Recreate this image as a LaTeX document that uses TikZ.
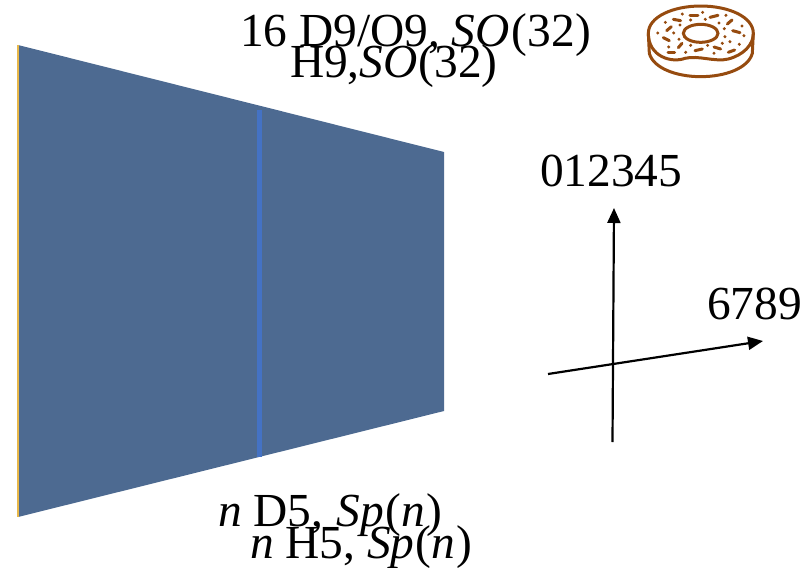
\documentclass[tikz,border=0pt]{standalone}
\usepackage{fontspec}
\setmainfont{Liberation Serif}
\usetikzlibrary{arrows.meta}
\definecolor{sheet}{HTML}{4D6A91}
\definecolor{brane}{HTML}{4472C4}
\definecolor{edgey}{HTML}{E8B84A}
\definecolor{donut}{HTML}{964B0F}
\tikzset{
  lbl/.style={anchor=base west,inner sep=0pt,outer sep=0pt,font=\fontsize{47.4}{50}\selectfont,text=black},
  axisline/.style={line width=2.2pt,black,-{Triangle[length=15pt,width=13pt]}},
  dn/.style={draw=donut,line width=3pt,fill=none},
  dsh/.style={draw=donut,line width=3pt,line cap=round},
  dt/.style={fill=donut,draw=none}
}
\newcommand{\spr}[4]{\draw[dsh] (#1,#2) -- (#3,#4);}
\newcommand{\dott}[2]{\fill[dt] (#1,#2) circle (5);}
\begin{document}
\begin{tikzpicture}[x=1pt,y=-1pt]
\useasboundingbox (0,0) rectangle (812,568);
\fill[sheet] (18,45) -- (444,152) -- (444,411) -- (18,517) -- cycle;
\coordinate (ytop) at (18,45);
\coordinate (ybot) at (18,517);
\draw[edgey,line width=1.6pt] (ytop) -- (ybot);
\coordinate (btop) at (259,110);
\coordinate (bbot) at (259,457);
\draw[brane,line width=5pt] (btop) -- (bbot);
\coordinate (vs) at (612.5,442);
\coordinate (ve) at (614,208);
\coordinate (hs) at (548,374);
\coordinate (he) at (763,341);
\draw[axisline] (vs) -- (ve);
\draw[axisline] (hs) -- (he);
\node[lbl] (t1) at (240,46.5) {16 D9/O9, \textit{SO}\kern2pt(32)};
\node[lbl] (t2) at (290,77) {H9,\textit{SO}\kern1pt(32)};
\node[lbl] (b1) at (218,526) {\textit{n} D5, \kern1.5pt\textit{Sp}\kern1.5pt(\textit{n}\kern1pt)};
\node[lbl] (b2) at (250,558) {\textit{n} H5, \textit{Sp}\kern1pt(\textit{n}\kern1pt)};
\node[lbl] (a1) at (540,186) {012345};
\node[lbl] (a2) at (707,319) {6789};
\begin{scope}[shift={(630,0)},x=0.3333pt,y=-0.3333pt]
\draw[dn] (212,100) ellipse [x radius=52,y radius=27];
\draw[dn] (55,100) .. controls (55,50) and (130,18) .. (212,18)
  .. controls (295,18) and (370,50) .. (370,100)
  .. controls (370,135) and (340,165) .. (295,177)
  .. controls (255,187) and (205,165) .. (165,175)
  .. controls (125,190) and (55,170) .. (55,100) -- cycle;
\draw[dn] (55,100) -- (58,160) .. controls (70,205) and (140,230) .. (212,230)
  .. controls (285,230) and (355,205) .. (367,160) -- (370,100);
\spr{130}{58}{152}{62}\spr{180}{47}{204}{47}\spr{240}{52}{264}{46}
\spr{292}{72}{306}{60}\spr{308}{92}{330}{98}\spr{110}{92}{124}{80}
\spr{100}{113}{118}{122}\spr{145}{143}{156}{130}\spr{114}{157}{134}{157}
\spr{195}{152}{217}{147}\spr{252}{141}{272}{147}\spr{295}{157}{314}{150}
\dott{157}{42}\dott{218}{37}\dott{288}{46}\dott{106}{67}\dott{150}{75}
\dott{182}{60}\dott{226}{58}\dott{267}{69}\dott{336}{78}\dott{83}{99}
\dott{131}{99}\dott{283}{86}\dott{342}{107}\dott{285}{110}\dott{147}{118}
\dott{182}{136}\dott{233}{136}\dott{277}{130}\dott{328}{133}\dott{116}{141}
\dott{167}{157}\dott{252}{160}\dott{300}{125}
\end{scope}
\end{tikzpicture}
\end{document}
